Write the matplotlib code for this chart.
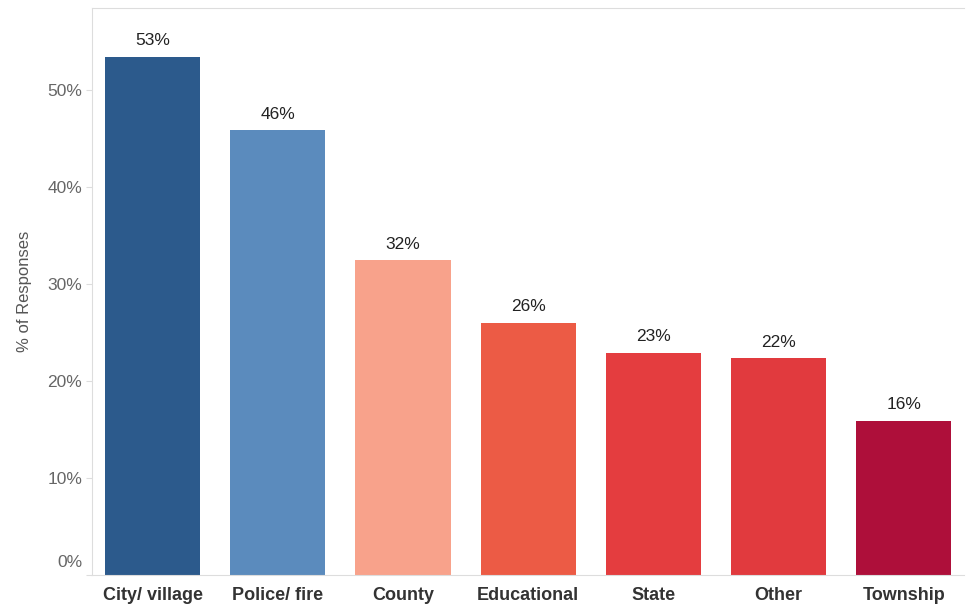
import matplotlib
matplotlib.use("Agg")
import matplotlib.pyplot as plt
import matplotlib.transforms as mtransforms
import numpy as np

categories = ["City/ village", "Police/ fire", "County", "Educational", "State", "Other", "Township"]
values = [53.4, 45.8, 32.4, 26.0, 22.9, 22.3, 15.9]
labels = ["53%", "46%", "32%", "26%", "23%", "22%", "16%"]
colors = ["#2c5a8c", "#5b8bbd", "#f8a28b", "#ec5b45", "#e43d3f", "#e13a3e", "#ae0f3a"]
yticks = [0, 10, 20, 30, 40, 50]

plt.rcParams['font.family'] = ['Liberation Sans', 'DejaVu Sans']

fig = plt.figure(figsize=(9.72, 6.06), dpi=100)
ax = fig.add_axes([0.0947, 0.0512, 0.8973, 0.9356])

x = np.arange(len(categories))
bars = ax.bar(x, values, width=0.76, color=colors)

for b, lab in zip(bars, labels):
    ax.text(b.get_x() + b.get_width() / 2, b.get_height() + 0.9, lab,
            ha='center', va='bottom', fontsize=12.5, color='#222222')

ax.set_xlim(-0.484, 6.484)
ax.set_ylim(0, 58.4)
ax.set_xticks(x)
ax.set_xticklabels(categories, fontsize=13, color='#333333', fontweight='bold')
ax.set_yticks(yticks)
ax.set_yticklabels([f"{t}%" for t in yticks], fontsize=12.5, color='#666666')
ax.tick_params(axis='x', length=0, pad=9)
ax.tick_params(axis='y', length=4, color='#dddddd', pad=3)
ax.set_ylabel("% of Responses", fontsize=12, color='#555555', labelpad=11)

# Tableau nudges the 0% label up
zero_lab = ax.get_yticklabels()[0]
zero_lab.set_transform(zero_lab.get_transform() +
                       mtransforms.ScaledTranslation(0, 10 / 72, fig.dpi_scale_trans))

for side in ['left', 'bottom', 'top']:
    ax.spines[side].set_color('#dddddd')
ax.spines['right'].set_visible(False)

fig.savefig("out.png", dpi=100)
